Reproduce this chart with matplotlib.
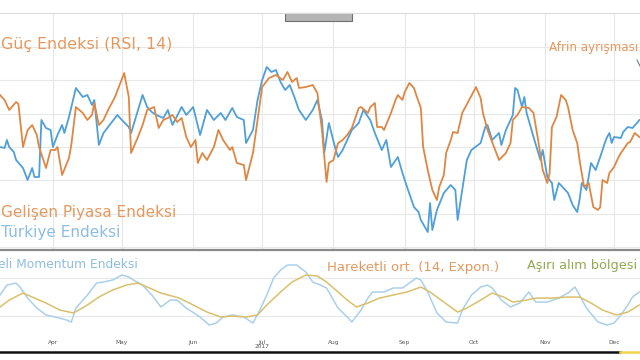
import matplotlib
matplotlib.use("Agg")
import matplotlib.pyplot as plt
from matplotlib.patches import Rectangle
from matplotlib.lines import Line2D
import numpy as np
import pandas as pd

# ---------------- data ----------------
base_date = "2017-03-09"

# RSI(14) - Gelişen Piyasa Endeksi (orange)
em_days = [0, 2, 4, 7, 8, 10, 12, 14, 16, 17, 20, 22, 24, 25, 27, 30, 31, 33, 36, 38,
           40, 41, 43, 45, 47, 50, 52, 54, 56, 57, 60, 62, 64, 67, 69, 71, 73, 75, 77, 79,
           81, 83, 85, 86, 88, 90, 93, 95, 97, 100, 101, 103, 106, 107, 110, 112, 114, 117, 120, 123,
           125, 127, 129, 130, 133, 136, 138, 140, 142, 143, 145, 147, 149, 151, 153, 156, 157, 160, 161, 163,
           164, 166, 167, 170, 172, 173, 175, 176, 178, 180, 181, 183, 184, 186, 188, 190, 191, 193, 194, 196,
           197, 199, 201, 204, 207, 209, 210, 212, 215, 217, 220, 222, 223, 225, 227, 230, 232, 234, 236, 238,
           239, 240, 242, 244, 246, 247, 249, 251, 252, 254, 256, 258, 260, 261, 262, 264, 265, 267, 269, 270,
           273, 274, 276, 278]
em_rsi = [65.6, 64.1, 61.1, 63.5, 62.9, 50.0, 55.1, 56.6, 53.6, 50.0, 43.7, 49.1, 49.1, 50.0, 41.6, 46.7, 50.6, 62.0, 60.2, 58.1,
          59.6, 63.2, 56.6, 58.1, 61.1, 65.0, 68.6, 72.2, 65.0, 48.2, 53.0, 56.6, 61.1, 62.0, 55.7, 58.1, 58.7, 59.6, 57.5, 58.7,
          53.0, 50.0, 52.1, 45.2, 48.2, 46.1, 50.0, 55.1, 52.1, 49.1, 50.0, 45.2, 44.6, 40.1, 48.2, 58.1, 68.0, 70.7, 71.6, 70.1,
          72.5, 69.5, 70.7, 67.7, 68.0, 68.6, 66.2, 55.1, 39.5, 45.2, 46.1, 51.2, 52.1, 53.6, 55.7, 61.7, 62.0, 60.2, 62.0, 63.2,
          56.0, 56.0, 55.1, 60.2, 64.1, 65.6, 64.1, 66.5, 69.2, 67.7, 65.6, 61.7, 50.0, 43.1, 37.1, 34.1, 38.0, 41.6, 48.2, 52.1,
          54.5, 54.2, 60.2, 64.1, 68.0, 64.7, 60.2, 55.1, 49.7, 46.1, 48.2, 51.2, 58.1, 59.6, 62.0, 61.7, 60.2, 52.1, 43.1, 39.2,
          42.2, 56.0, 59.0, 65.6, 64.1, 62.0, 55.1, 51.2, 46.1, 38.0, 39.2, 32.0, 31.1, 32.0, 40.1, 39.2, 42.2, 44.0, 47.0, 48.2,
          51.2, 51.5, 54.2, 53.0]

# RSI(14) - Türkiye Endeksi (blue)
tr_days = [0, 2, 3, 4, 6, 7, 10, 12, 14, 15, 17, 18, 20, 22, 23, 25, 27, 28, 30, 33,
           36, 38, 40, 41, 43, 45, 47, 51, 53, 56, 57, 62, 64, 66, 68, 71, 73, 75, 79, 81,
           84, 87, 90, 93, 96, 98, 101, 103, 106, 107, 110, 112, 114, 116, 118, 120, 122, 124, 126, 128,
           130, 133, 136, 138, 140, 141, 143, 146, 147, 149, 151, 153, 156, 158, 161, 163, 166, 168, 170, 173,
           175, 177, 180, 182, 183, 186, 187, 188, 190, 193, 196, 198, 199, 201, 203, 205, 209, 211, 212, 214,
           217, 218, 220, 223, 224, 225, 227, 228, 229, 232, 235, 236, 238, 240, 241, 243, 247, 249, 251, 252,
           253, 255, 257, 259, 261, 263, 264, 265, 266, 267, 270, 271, 273, 275, 277, 278]
tr_rsi = [50.0, 49.7, 52.1, 50.0, 48.5, 46.1, 43.7, 40.1, 43.7, 41.0, 41.0, 58.1, 55.7, 55.1, 50.0, 53.6, 56.6, 54.2, 59.0, 67.7,
          65.0, 65.6, 62.6, 64.1, 50.6, 54.2, 56.0, 59.6, 58.1, 56.0, 54.2, 65.6, 62.0, 60.5, 59.6, 58.7, 61.1, 56.6, 62.0, 59.6,
          62.0, 53.6, 61.1, 58.1, 60.2, 58.1, 61.7, 59.0, 58.1, 51.2, 55.1, 64.1, 70.1, 74.0, 72.5, 73.1, 69.5, 67.1, 68.6, 65.0,
          61.1, 58.1, 61.1, 64.1, 58.1, 48.2, 57.2, 49.1, 47.0, 49.1, 52.1, 55.1, 57.2, 61.1, 58.1, 54.2, 49.1, 52.1, 44.0, 47.0,
          42.2, 38.0, 32.0, 30.5, 28.1, 24.5, 33.2, 25.1, 31.1, 36.2, 38.6, 37.1, 28.1, 37.1, 46.1, 49.1, 51.2, 56.0, 56.6, 52.1,
          54.2, 50.6, 55.1, 59.6, 67.7, 67.1, 62.0, 65.0, 60.2, 53.0, 46.1, 49.1, 41.0, 39.2, 34.1, 39.2, 36.2, 32.6, 30.5, 34.1,
          39.2, 37.1, 45.2, 43.1, 47.0, 51.2, 53.0, 54.2, 51.2, 53.0, 52.7, 54.5, 56.0, 55.7, 57.2, 58.1]

# Momentum oscillator (light blue) and its 14-period exponential moving average (yellow)
mom_days = [0, 3, 7, 9, 12, 16, 20, 24, 29, 31, 33, 38, 42, 45, 49, 53, 56, 58, 62, 66,
            70, 74, 77, 81, 87, 91, 94, 97, 101, 106, 110, 113, 116, 119, 122, 125, 129, 133, 136, 139,
            142, 147, 151, 153, 157, 160, 162, 167, 171, 175, 178, 181, 183, 186, 190, 194, 199, 201, 205, 209,
            212, 214, 218, 222, 226, 230, 233, 238, 243, 247, 250, 252, 255, 260, 264, 267, 270, 273, 275, 278]
mom_val = [52.1, 62.6, 64.7, 59.5, 48.9, 38.4, 31.1, 29.0, 25.8, 23.7, 38.4, 52.1, 64.7, 65.8, 67.9, 73.2, 71.1, 67.9, 62.6, 52.1,
           39.5, 46.8, 46.8, 38.4, 29.0, 20.5, 22.6, 29.0, 31.1, 29.0, 22.6, 36.3, 52.1, 70.0, 78.4, 83.7, 83.7, 76.3, 65.8, 63.0,
           59.5, 38.4, 29.0, 23.7, 36.3, 48.9, 55.3, 55.3, 59.5, 59.5, 64.7, 70.0, 67.9, 55.3, 33.2, 23.7, 22.6, 36.3, 52.1, 60.5,
           62.6, 59.5, 46.8, 39.5, 43.7, 55.3, 44.7, 44.7, 48.9, 54.2, 60.5, 52.1, 38.4, 23.7, 20.5, 22.6, 31.1, 41.6, 50.0, 55.3]

ema_days = [0, 4, 10, 14, 20, 26, 32, 38, 43, 49, 55, 60, 64, 70, 78, 84, 90, 96, 101, 107,
            112, 116, 122, 127, 133, 138, 142, 147, 151, 155, 160, 165, 171, 177, 183, 187, 193, 199, 203, 209,
            214, 219, 223, 229, 233, 240, 247, 252, 257, 262, 268, 273, 278]
ema_val = [39.5, 46.8, 54.2, 50.0, 43.7, 36.3, 33.2, 41.6, 50.0, 57.4, 62.6, 64.7, 60.5, 54.2, 48.9, 41.6, 34.2, 29.0, 30.0, 29.0,
           31.1, 41.6, 55.3, 65.8, 73.2, 72.1, 65.8, 55.3, 46.8, 39.5, 43.7, 48.9, 52.1, 55.3, 60.5, 55.3, 44.7, 34.2, 38.4, 46.8,
           54.2, 50.0, 44.7, 46.8, 48.9, 48.9, 50.0, 50.0, 43.7, 36.3, 31.1, 34.2, 41.6]

rsi_grid = [20, 30, 40, 50, 60, 70, 80]
mom_levels = [30, 70]
month_starts = ["2017-04-01", "2017-05-01", "2017-06-01", "2017-07-01", "2017-08-01",
                "2017-09-01", "2017-10-01", "2017-11-01", "2017-12-01"]
month_labels = ["Apr", "May", "Jun", "Jul\n2017", "Aug", "Sep", "Oct", "Nov", "Dec"]

# ---------------- helpers ----------------
b0 = pd.Timestamp(base_date)
def to_dates(days):
    return b0 + pd.to_timedelta(np.asarray(days, dtype=float), unit="D")

x_left = b0
x_right = b0 + pd.Timedelta(days=278.3)
ticks = pd.to_datetime(month_starts)

W, H = 640, 360
def fx(px):
    return px / W
def fy(py):
    return 1 - py / H

c_orange = "#de8744"
c_blue = "#4f9fd9"
c_orange_txt = "#e5995e"
c_blue_txt = "#8dbde0"
c_mom = "#a9d0ec"
c_ema = "#d9c06c"
c_green_txt = "#8faa52"
c_grid = "#e7e7e7"
FONT = "DejaVu Sans"

fig = plt.figure(figsize=(6.4, 3.6), dpi=100)
fig.patch.set_facecolor("white")
renderer = fig.canvas.get_renderer()

def size_for_width(sample, width_px, ref=10.0):
    t = fig.text(0, 0, sample, fontsize=ref, family=FONT)
    w = t.get_window_extent(renderer=renderer).width
    t.remove()
    return ref * width_px / w

# ---------------- top panel ----------------
ax1 = fig.add_axes([0, fy(250), 1, (250 - 13) / H])
ax1.plot(to_dates(tr_days), tr_rsi, color=c_blue, lw=1.3, zorder=3)
ax1.plot(to_dates(em_days), em_rsi, color=c_orange, lw=1.3, zorder=4)
ax1.set_xlim(x_left, x_right)
ax1.set_ylim(19.1, 90.2)
ax1.set_yticks(rsi_grid)
ax1.set_xticks(ticks)
ax1.grid(True, color=c_grid, lw=0.8)
ax1.tick_params(left=False, bottom=False, labelleft=False, labelbottom=False)
for s in ax1.spines.values():
    s.set_visible(False)
ax1.set_axisbelow(True)

# ---------------- bottom panel ----------------
ax2 = fig.add_axes([0, fy(330), 1, (330 - 252) / H])
ax2.plot(to_dates(mom_days), mom_val, color=c_mom, lw=1.1, zorder=3)
ax2.plot(to_dates(ema_days), ema_val, color=c_ema, lw=1.1, zorder=4)
ax2.set_xlim(x_left, x_right)
ax2.set_ylim(15.3, 97.4)
ax2.set_yticks(mom_levels)
ax2.yaxis.grid(True, color=c_grid, lw=0.8)
ax2.set_xticks(ticks)
ax2.set_xticklabels(month_labels, fontsize=4.2, color="#555555", linespacing=0.9)
ax2.tick_params(left=False, labelleft=False, bottom=False, pad=3.5)
for lab in ax2.get_xticklabels():
    lab.set_verticalalignment("top")
for s in ax2.spines.values():
    s.set_visible(False)
ax2.set_axisbelow(True)

# ---------------- decorations ----------------
fig.add_artist(Line2D([0, 1], [fy(13), fy(13)], color="#dcdcdc", lw=0.8))
fig.add_artist(Line2D([0, 1], [fy(249.5), fy(249.5)], color="#8a8a8a", lw=1.6))
fig.add_artist(Line2D([0, fx(620)], [fy(352), fy(352)], color="#111111", lw=1.8))
fig.add_artist(Line2D([fx(620), 1], [fy(352), fy(352)], color="#f2d44a", lw=1.8))
fig.add_artist(Rectangle((fx(285), fy(21)), (352 - 285) / W, 8 / H,
                         facecolor="#b4b4b4", edgecolor="#6f6f6f", lw=0.8))
fig.add_artist(Line2D([fx(637), fx(641)], [fy(60), fy(68)], color="#6f7f95", lw=0.8))

# ---------------- texts ----------------
s1 = size_for_width("Güç Endeksi (RSI, 14)", 171)
fig.text(fx(1), fy(45), "Güç Endeksi (RSI, 14)", ha="left", va="center",
         fontsize=s1, color=c_orange_txt, family=FONT)
s2 = size_for_width("Gelişen Piyasa Endeksi", 175)
fig.text(fx(1), fy(213), "Gelişen Piyasa Endeksi", ha="left", va="center",
         fontsize=s2, color=c_orange_txt, family=FONT)
fig.text(fx(1), fy(232), "Türkiye Endeksi", ha="left", va="center",
         fontsize=s2, color=c_blue_txt, family=FONT)
s4 = size_for_width("Afrin ayrışması", 89)
fig.text(fx(549), fy(47), "Afrin ayrışması", ha="left", va="center",
         fontsize=s4, color=c_orange_txt, family=FONT)
s5 = size_for_width("eli Momentum Endeksi", 139)
fig.text(fx(138), fy(265), "Göreceli Momentum Endeksi", ha="right", va="center",
         fontsize=s5, color=c_blue_txt, family=FONT)
s6 = size_for_width("Hareketli ort. (14, Expon.)", 171)
fig.text(fx(327), fy(268), "Hareketli ort. (14, Expon.)", ha="left", va="center",
         fontsize=s6, color=c_orange_txt, family=FONT)
s7 = size_for_width("Aşırı alım bölgesi", 110)
fig.text(fx(527), fy(266), "Aşırı alım bölgesi", ha="left", va="center",
         fontsize=s7, color=c_green_txt, family=FONT)

fig.savefig("out.png", dpi=100, facecolor="white")
